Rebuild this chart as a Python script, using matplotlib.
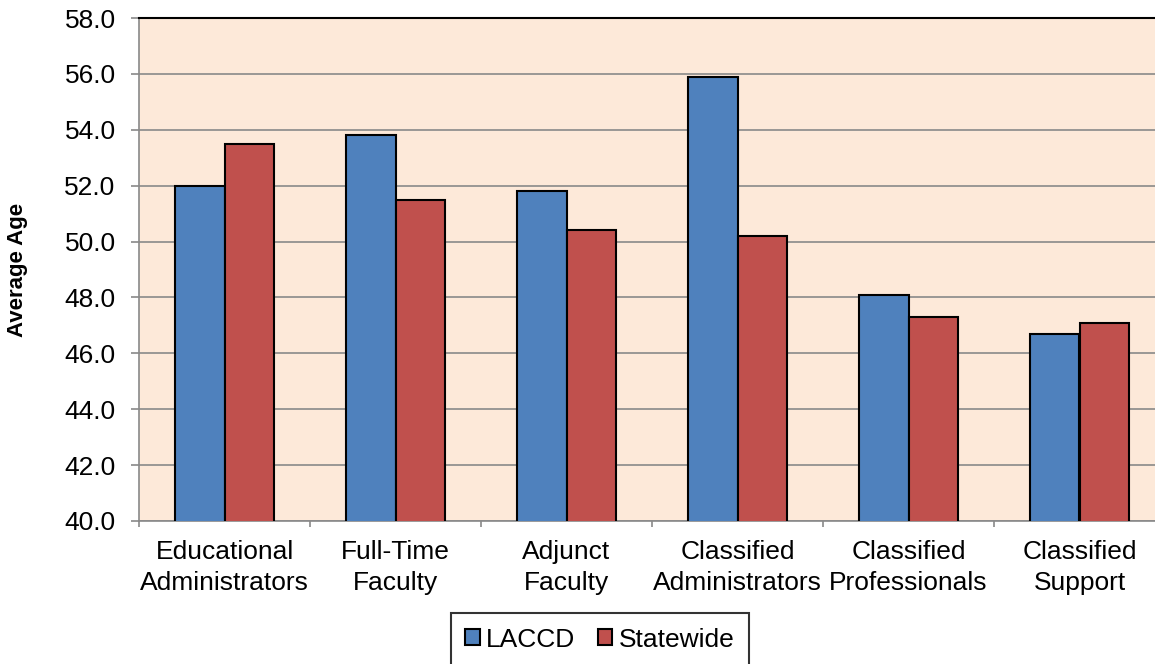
import matplotlib.pyplot as plt
import numpy as np

plt.rcParams['font.family'] = ['Liberation Sans', 'DejaVu Sans']

# Data
categories = ['Educational\nAdministrators', 'Full-Time\nFaculty', 'Adjunct\nFaculty',
              'Classified\nAdministrators', 'Classified\nProfessionals', 'Classified\nSupport']
laccd = [52.0, 53.8, 51.8, 55.9, 48.1, 46.7]
statewide = [53.5, 51.5, 50.4, 50.2, 47.3, 47.1]
yticks = [40, 42, 44, 46, 48, 50, 52, 54, 56, 58]

fig = plt.figure(figsize=(11.55, 6.64), dpi=100)
ax = fig.add_axes([139 / 1155, 1 - 521 / 664, 1026 / 1155, 503 / 664])
ax.set_facecolor('#FDE9D9')

x = np.arange(len(categories))
w = 0.287
ax.bar(x - w / 2, laccd, w, color='#4F81BD', edgecolor='black', linewidth=1.5,
       label='LACCD', zorder=3)
ax.bar(x + w / 2, statewide, w, color='#C0504D', edgecolor='black', linewidth=1.5,
       label='Statewide', zorder=3)

ax.set_ylim(40, 58)
ax.set_xlim(-0.5, len(categories) - 0.5)
ax.set_yticks(yticks)
ax.set_yticklabels([f'{v:.1f}' for v in yticks], fontsize=19)
ax.yaxis.grid(True, color='#898989', linewidth=1.2, zorder=0)
ax.set_axisbelow(True)

ax.set_xticks(x)
ax.set_xticklabels(categories, fontsize=19, linespacing=1.36)
ax.set_xticks(np.arange(len(categories) + 1) - 0.5, minor=True)
ax.tick_params(axis='x', which='major', length=0, pad=14)
ax.tick_params(axis='x', which='minor', length=4.5, color='#898989', width=1.2)
ax.tick_params(axis='y', length=5.8, color='#898989', width=1.2, pad=11)

ax.set_ylabel('Average Age', fontsize=16, fontweight='bold')
ax.yaxis.set_label_coords(-0.108, 0.5)

for s in ['left', 'bottom']:
    ax.spines[s].set_color('#898989')
    ax.spines[s].set_linewidth(1.2)
ax.spines['top'].set_color('black')
ax.spines['top'].set_linewidth(1.5)
ax.spines['right'].set_visible(False)

leg = ax.legend(loc='upper center', bbox_to_anchor=(600 / 1155, 1 - 613 / 664),
                bbox_transform=fig.transFigure, ncol=2, fontsize=19, frameon=True,
                fancybox=False, edgecolor='black', handlelength=0.55, handleheight=0.55,
                handletextpad=0.25, columnspacing=0.85, borderpad=0.55,
                borderaxespad=0)
leg.get_frame().set_linewidth(1.5)

fig.savefig('out.png', dpi=100)
